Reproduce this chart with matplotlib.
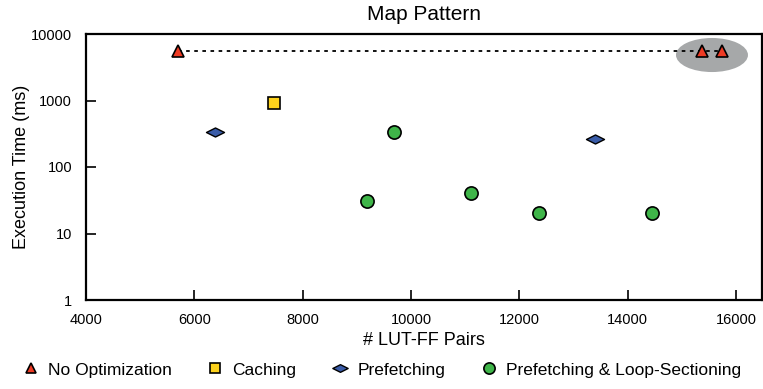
import matplotlib
matplotlib.use("Agg")
import matplotlib.pyplot as plt
from matplotlib.patches import Ellipse
from matplotlib.path import Path

plt.rcParams['font.family'] = ['Liberation Sans', 'DejaVu Sans']

no_opt_x = [5700, 15370, 15740]
no_opt_y = [5600, 5600, 5600]

caching_x = [7470]
caching_y = [930]

prefetch_x = [6380, 13400]
prefetch_y = [340, 260]

loopsec_x = [9190, 9690, 11110, 12370, 14450]
loopsec_y = [31, 340, 41, 20, 20]

xticks = [4000, 6000, 8000, 10000, 12000, 14000, 16000]
yticks = [1, 10, 100, 1000, 10000]

# flat diamond used for prefetching
flat_diamond = Path([(-1, 0), (0, 0.5), (1, 0), (0, -0.5), (-1, 0)],
                    [Path.MOVETO, Path.LINETO, Path.LINETO, Path.LINETO, Path.CLOSEPOLY])

fig = plt.figure(figsize=(7.63, 3.89), dpi=100)
ax = fig.add_axes([86 / 763, 1 - 300 / 389, 676 / 763, 266 / 389])

# highlight around the last two points
ax.add_patch(Ellipse((0.926, 0.921), 0.1065, 0.128, transform=ax.transAxes,
                     facecolor="#a6a8a9", edgecolor="none", zorder=1))

ax.plot(no_opt_x, no_opt_y, color="black", linestyle=(0, (2, 2.5)), linewidth=1.3, zorder=2)
ax.plot(no_opt_x, no_opt_y, linestyle="none", marker="^", markersize=9, markerfacecolor="#ee3b24",
        markeredgecolor="black", markeredgewidth=1.2, label="No Optimization", zorder=3)
ax.plot(caching_x, caching_y, linestyle="none", marker="s", markersize=8.5, markerfacecolor="#fdd21c",
        markeredgecolor="black", markeredgewidth=1.2, label="Caching", zorder=3)
ax.plot(prefetch_x, prefetch_y, linestyle="none", marker=flat_diamond, markersize=13, markerfacecolor="#3a5ca8",
        markeredgecolor="black", markeredgewidth=1.0, label="Prefetching", zorder=3)
ax.plot(loopsec_x, loopsec_y, linestyle="none", marker="o", markersize=9.5, markerfacecolor="#3fb549",
        markeredgecolor="black", markeredgewidth=1.2, label="Prefetching & Loop-Sectioning", zorder=3)

ax.set_yscale("log")
ax.set_xlim(4000, 16480)
ax.set_ylim(1, 10000)
ax.set_xticks(xticks)
ax.set_xticklabels([str(t) for t in xticks])
ax.set_yticks(yticks)
ax.set_yticklabels([str(t) for t in yticks])
ax.minorticks_off()
ax.tick_params(direction="in", length=7, width=1.2, labelsize=10.5)
ax.tick_params(axis="x", pad=9)
ax.tick_params(axis="y", pad=10)
for s in ax.spines.values():
    s.set_linewidth(1.6)

ax.set_title("Map Pattern", fontsize=15, pad=10)
ax.set_xlabel("# LUT-FF Pairs", fontsize=13, labelpad=4)
ax.set_ylabel("Execution Time (ms)", fontsize=13, labelpad=1)

fig.legend(loc="center", bbox_to_anchor=(0.5, 1 - 370 / 389), ncol=4, frameon=False, fontsize=12.5,
           handletextpad=0.5, columnspacing=2.0, handlelength=1.0, markerscale=0.85)

fig.savefig("out.png", dpi=100)
